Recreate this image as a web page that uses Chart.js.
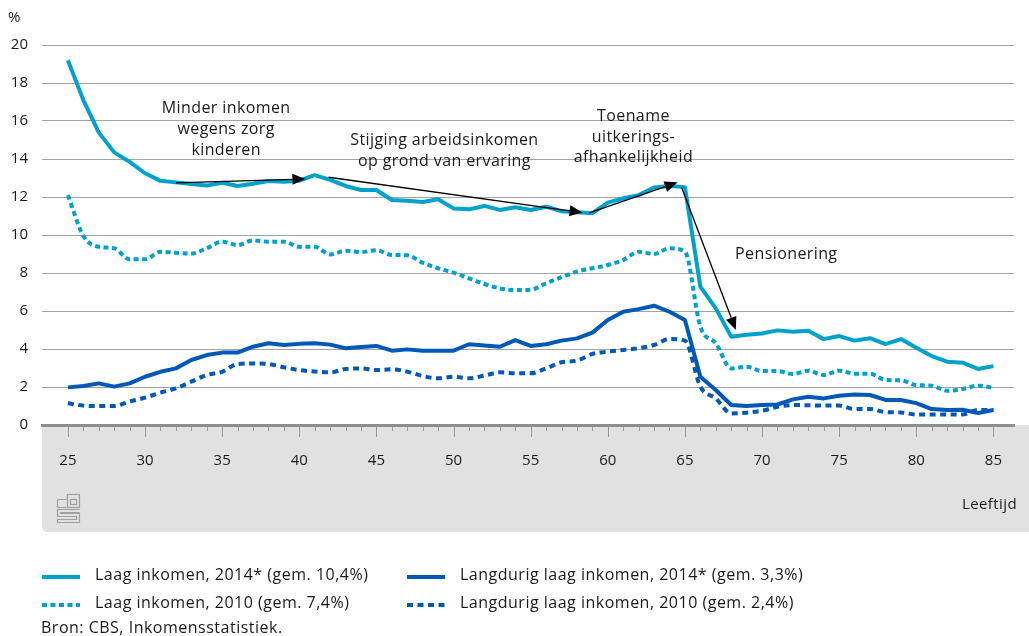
<!DOCTYPE html>
<html>
<head>
<meta charset="utf-8">
<script src="https://cdn.jsdelivr.net/npm/chart.js@4.4.1/dist/chart.umd.min.js"></script>
<style>
  body { margin: 0; background: #fff; }
  #wrap { width: 1029px; height: 636px; }
</style>
</head>
<body>
<div id="wrap"><canvas id="chart" width="1029" height="636"></canvas></div>
<script>
// Leeftijd (x-as)
const leeftijden = [25,26,27,28,29,30,31,32,33,34,35,36,37,38,39,40,41,42,43,44,45,46,47,48,49,50,51,52,53,54,55,56,57,58,59,60,61,62,63,64,65,66,67,68,69,70,71,72,73,74,75,76,77,78,79,80,81,82,83,84,85];

// Percentages per reeks
const laag2014 = [19.2,17.1,15.4,14.35,13.85,13.25,12.85,12.77,12.68,12.6,
  12.75,12.58,12.7,12.84,12.8,12.86,13.15,12.9,12.58,12.37,
  12.37,11.84,11.8,11.74,11.88,11.4,11.35,11.53,11.32,11.46,
  11.32,11.49,11.25,11.2,11.15,11.7,11.93,12.1,12.5,12.58,
  12.52,7.28,6.14,4.65,4.75,4.82,4.98,4.91,4.96,4.52,
  4.68,4.44,4.57,4.26,4.52,4.07,3.63,3.33,3.28,2.95,3.1];
const laag2010 = [12.1,9.95,9.38,9.3,8.72,8.72,9.12,9.07,9.02,9.3,
  9.65,9.47,9.72,9.65,9.65,9.38,9.38,8.98,9.17,9.1,
  9.2,8.95,8.93,8.54,8.25,8.02,7.72,7.42,7.19,7.1,
  7.12,7.46,7.78,8.07,8.25,8.42,8.68,9.12,9.0,9.3,
  9.12,5.18,4.3,2.98,3.07,2.84,2.84,2.68,2.86,2.63,
  2.86,2.7,2.7,2.37,2.35,2.1,2.07,1.8,1.89,2.07,1.96];
const langdurig2014 = [1.98,2.05,2.19,2.02,2.19,2.54,2.8,2.98,3.42,3.68,
  3.81,3.81,4.12,4.3,4.21,4.27,4.3,4.23,4.04,4.1,
  4.16,3.91,3.98,3.91,3.91,3.91,4.25,4.19,4.12,4.47,
  4.16,4.25,4.44,4.56,4.86,5.53,5.96,6.1,6.28,5.96,
  5.53,2.54,1.84,1.05,1.0,1.05,1.08,1.35,1.49,1.4,
  1.54,1.6,1.58,1.32,1.32,1.15,0.84,0.79,0.8,0.63,0.79];
const langdurig2010 = [1.14,1.02,1.0,1.0,1.23,1.44,1.7,1.93,2.28,2.63,
  2.8,3.21,3.24,3.21,3.04,2.89,2.81,2.77,2.95,2.98,
  2.89,2.93,2.81,2.58,2.46,2.54,2.46,2.6,2.77,2.72,
  2.72,2.98,3.3,3.39,3.74,3.86,3.95,4.04,4.21,4.53,
  4.44,2.02,1.4,0.61,0.65,0.75,0.96,1.05,1.04,1.02,
  1.02,0.84,0.84,0.68,0.66,0.55,0.55,0.55,0.55,0.79,0.79];

const yTicks = [0,2,4,6,8,10,12,14,16,18,20];

const reeksNamen = [
  'Laag inkomen, 2014* (gem. 10,4%)',
  'Langdurig laag inkomen, 2014* (gem. 3,3%)',
  'Laag inkomen, 2010 (gem. 7,4%)',
  'Langdurig laag inkomen, 2010 (gem. 2,4%)'
];

// Pijlen en teksten in data-eenheden (leeftijd, %)
const pijlen = [
  [32.0, 12.74, 40.4, 12.95],
  [41.9, 13.04, 58.36, 11.18],
  [58.8, 11.17, 64.53, 12.77],
  [64.78, 12.51, 68.3, 5.0]
];
const teksten = [
  { x: 35.26, y: [16.68, 15.58, 14.47], regels: ['Minder inkomen', 'wegens zorg', 'kinderen'] },
  { x: 49.41, y: [15.0, 13.89], regels: ['Stijging arbeidsinkomen', 'op grond van ervaring'] },
  { x: 61.66, y: [16.26, 15.16, 14.1], regels: ['Toename', 'uitkerings-', 'afhankelijkheid'] },
  { x: 71.57, y: [9.0], regels: ['Pensionering'] }
];

const LICHT = '#00a1cd';
const DONKER = '#0058b8';
const FONT = "'Open Sans', 'DejaVu Sans', sans-serif";

function punten(reeks) {
  return leeftijden.map((a, i) => ({ x: a, y: reeks[i] }));
}

const extras = {
  id: 'extras',
  beforeDraw(chart) {
    const c = chart.ctx;
    const a = chart.chartArea;
    // grijze band onder de as
    c.save();
    c.fillStyle = '#e1e1e1';
    const x0 = a.left, y0 = a.bottom, x1 = chart.width, y1 = 532, r = 6;
    c.beginPath();
    c.moveTo(x0, y0);
    c.lineTo(x1, y0);
    c.lineTo(x1, y1);
    c.lineTo(x0 + r, y1);
    c.quadraticCurveTo(x0, y1, x0, y1 - r);
    c.closePath();
    c.fill();
    c.restore();
  },
  afterDraw(chart) {
    const c = chart.ctx;
    const xs = chart.scales.x, ys = chart.scales.y;
    const a = chart.chartArea;
    c.save();
    // tickmarks
    c.strokeStyle = '#999';
    c.lineWidth = 1;
    xs.ticks.forEach(t => {
      const px = Math.round(xs.getPixelForValue(t.value)) + 0.5;
      const len = t.value % 5 === 0 ? 10 : 4;
      c.beginPath();
      c.moveTo(px, a.bottom + 2);
      c.lineTo(px, a.bottom + 2 + len);
      c.stroke();
    });

    // pijlen
    c.strokeStyle = '#000';
    c.fillStyle = '#000';
    c.lineWidth = 1.3;
    pijlen.forEach(p => {
      const sx = xs.getPixelForValue(p[0]), sy = ys.getPixelForValue(p[1]);
      const ex = xs.getPixelForValue(p[2]), ey = ys.getPixelForValue(p[3]);
      const ang = Math.atan2(ey - sy, ex - sx);
      const L = 13, W = 5.5;
      const bx = ex - L * Math.cos(ang), by = ey - L * Math.sin(ang);
      c.beginPath();
      c.moveTo(sx, sy);
      c.lineTo(bx, by);
      c.stroke();
      c.beginPath();
      c.moveTo(ex, ey);
      c.lineTo(bx + W * Math.sin(ang), by - W * Math.cos(ang));
      c.lineTo(bx - W * Math.sin(ang), by + W * Math.cos(ang));
      c.closePath();
      c.fill();
    });

    // teksten
    c.fillStyle = '#1a1a1a';
    c.font = '16px ' + FONT;
    c.letterSpacing = '0.4px';
    c.textAlign = 'center';
    c.textBaseline = 'middle';
    teksten.forEach(t => {
      const px = xs.getPixelForValue(t.x);
      t.regels.forEach((r, i) => c.fillText(r, px, ys.getPixelForValue(t.y[i])));
    });

    // eenheid en as-titel
    c.font = '15px ' + FONT;
    c.textAlign = 'left';
    c.fillText('%', 8, 18);
    c.textAlign = 'right';
    c.fillText('Leeftijd', 1017, 505);

    // cbs-logo (vereenvoudigd)
    c.letterSpacing = '0px';
    c.strokeStyle = '#a0a0a0';
    c.lineWidth = 1.2;
    c.beginPath();
    c.moveTo(66.5, 499.5); c.lineTo(57.5, 499.5); c.lineTo(57.5, 507.5); c.lineTo(66.5, 507.5);
    c.stroke();
    c.strokeRect(67.5, 494.5, 12, 13);
    c.strokeRect(70.5, 499.5, 6, 5);
    c.beginPath();
    c.moveTo(79.5, 509.5); c.lineTo(57.5, 509.5); c.lineTo(57.5, 516.5);
    c.lineTo(76.5, 516.5); c.lineTo(76.5, 519.5); c.lineTo(57.5, 519.5);
    c.lineTo(57.5, 522.5); c.lineTo(79.5, 522.5); c.lineTo(79.5, 513.5);
    c.lineTo(60.5, 513.5); c.lineTo(60.5, 512.5); c.lineTo(79.5, 512.5);
    c.stroke();

    // legenda
    const ds = chart.data.datasets;
    const posities = [[42, 577], [407, 577], [42, 605], [407, 605]];
    c.font = '16px ' + FONT;
    c.letterSpacing = '0.5px';
    c.textAlign = 'left';
    c.fillStyle = '#1a1a1a';
    ds.forEach((d, i) => {
      const [lx, ly] = posities[i];
      c.strokeStyle = d.borderColor;
      c.lineWidth = 4;
      c.setLineDash(d.borderDash || []);
      c.beginPath();
      c.moveTo(lx, ly);
      c.lineTo(lx + 38, ly);
      c.stroke();
      c.setLineDash([]);
      c.fillText(d.label, lx + 53, ly - 2);
    });
    c.fillText('Bron: CBS, Inkomensstatistiek.', 41, 628);
    c.restore();
  }
};

new Chart(document.getElementById('chart'), {
  type: 'line',
  data: {
    datasets: [
      { label: reeksNamen[0], data: punten(laag2014), borderColor: LICHT, borderWidth: 4, tension: 0 },
      { label: reeksNamen[1], data: punten(langdurig2014), borderColor: DONKER, borderWidth: 4, tension: 0 },
      { label: reeksNamen[2], data: punten(laag2010), borderColor: LICHT, borderWidth: 4, borderDash: [5, 3.5], cubicInterpolationMode: 'monotone' },
      { label: reeksNamen[3], data: punten(langdurig2010), borderColor: DONKER, borderWidth: 4, borderDash: [6, 4.5], cubicInterpolationMode: 'monotone' }
    ]
  },
  options: {
    responsive: false,
    animation: false,
    devicePixelRatio: 1,
    layout: { padding: { top: 45, right: 0, left: 0, bottom: 0 } },
    elements: { point: { radius: 0 }, line: { borderCapStyle: 'butt', borderJoinStyle: 'round' } },
    plugins: { legend: { display: false }, tooltip: { enabled: false } },
    scales: {
      x: {
        type: 'linear',
        min: 23.32,
        max: 86.34,
        afterBuildTicks: s => { s.ticks = leeftijden.map(v => ({ value: v })); },
        afterFit: s => { s.height = 211; },
        grid: { display: false, drawTicks: false },
        border: { display: true, color: '#8f8f8f', width: 3 },
        ticks: {
          autoSkip: false,
          maxRotation: 0,
          padding: 27,
          color: '#1a1a1a',
          font: { family: FONT, size: 15 },
          callback: v => (v % 5 === 0 ? String(v) : '')
        }
      },
      y: {
        min: 0,
        max: 20,
        afterBuildTicks: s => { s.ticks = yTicks.map(v => ({ value: v })); },
        afterFit: s => { s.width = 42; },
        grid: {
          drawTicks: false,
          color: ctx => (ctx.tick && ctx.tick.value === 0 ? 'rgba(0,0,0,0)' : '#a3a3a3'),
          lineWidth: 1
        },
        border: { display: false },
        ticks: {
          padding: 14,
          color: '#1a1a1a',
          font: { family: FONT, size: 15 }
        }
      }
    }
  },
  plugins: [extras]
});
</script>
</body>
</html>
